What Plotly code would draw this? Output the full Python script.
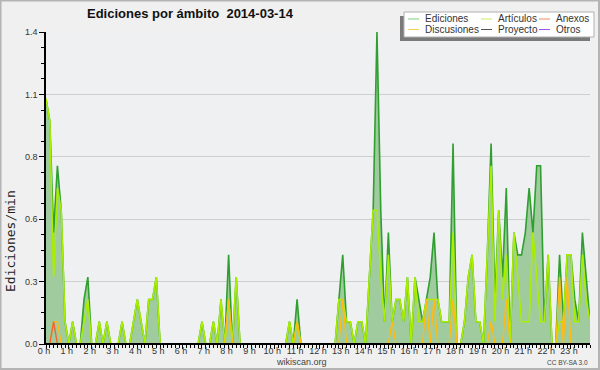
import plotly.graph_objects as go

# ---- data (10-minute bins, edits per minute) ----
HOUR_LABELS = [f"{h} h" for h in range(24)]
Y_TICK_VALUES = [0, 0.28, 0.56, 0.84, 1.12, 1.4]
Y_TICK_LABELS = ["0.0", "0.3", "0.6", "0.8", "1.1", "1.4"]

ediciones = [
    1.1, 1.0, 0.5, 0.8, 0.6, 0.1, 0, 0.1, 0, 0, 0.2, 0.3,          # 0-1h
    0, 0, 0.1, 0, 0.1, 0, 0, 0, 0.1, 0, 0, 0.1,                    # 2-3h
    0.2, 0.1, 0, 0.2, 0.2, 0.3, 0, 0, 0, 0, 0, 0,                  # 4-5h
    0, 0, 0, 0, 0, 0.1, 0, 0, 0.1, 0, 0.2, 0,                      # 6-7h
    0.4, 0, 0.3, 0, 0, 0, 0, 0, 0, 0, 0, 0,                        # 8-9h
    0, 0, 0, 0, 0.1, 0, 0.2, 0, 0, 0, 0, 0,                        # 10-11h
    0, 0, 0, 0, 0, 0.2, 0.4, 0.1, 0.1, 0, 0.1, 0.1,                # 12-13h
    0, 0.3, 0.6, 1.4, 0.6, 0.1, 0.5, 0.1, 0.2, 0.2, 0.1, 0.3,      # 14-15h
    0, 0.3, 0.2, 0.1, 0.2, 0.3, 0.5, 0.2, 0.1, 0.1, 0.1, 0.9,      # 16-17h
    0, 0, 0.1, 0.3, 0.4, 0.1, 0.1, 0, 0.4, 0.9, 0.2, 0.6,          # 18-19h
    0.3, 0.7, 0, 0.5, 0.4, 0.4, 0.5, 0.7, 0.5, 0.8, 0.8, 0.1,      # 20-21h
    0.4, 0, 0, 0.4, 0.1, 0.4, 0.4, 0.2, 0.1, 0.5, 0.3, 0.1,        # 22-23h
]
articulos = [
    1.1, 1.0, 0.3, 0.7, 0.6, 0.1, 0, 0.1, 0, 0, 0.1, 0.2,
    0, 0, 0.1, 0, 0.1, 0, 0, 0, 0.1, 0, 0, 0.1,
    0.2, 0.1, 0, 0.2, 0.2, 0.3, 0, 0, 0, 0, 0, 0,
    0, 0, 0, 0, 0, 0.1, 0, 0, 0.1, 0, 0.2, 0,
    0.2, 0, 0.3, 0, 0, 0, 0, 0, 0, 0, 0, 0,
    0, 0, 0, 0, 0.1, 0, 0.1, 0, 0, 0, 0, 0,
    0, 0, 0, 0, 0, 0.2, 0.2, 0.1, 0.1, 0, 0.1, 0.1,
    0, 0.3, 0.6, 0.6, 0.3, 0.1, 0.4, 0.1, 0.2, 0.2, 0.1, 0.3,
    0, 0.3, 0.1, 0.1, 0.2, 0.2, 0.2, 0.2, 0.1, 0.1, 0.1, 0.5,
    0, 0, 0.1, 0.3, 0.4, 0.1, 0.1, 0, 0.4, 0.8, 0.1, 0.6,
    0.2, 0.4, 0, 0.5, 0.3, 0.1, 0.1, 0.1, 0.5, 0.3, 0.1, 0.1,
    0.4, 0, 0, 0.1, 0.1, 0.4, 0.4, 0.1, 0.1, 0.4, 0.2, 0.1,
]
discusiones = [
    0, 0, 0.1, 0.1, 0, 0, 0, 0, 0, 0, 0, 0,
    0, 0, 0, 0, 0, 0, 0, 0, 0, 0, 0, 0,
    0, 0, 0, 0, 0, 0, 0, 0, 0, 0, 0, 0,
    0, 0, 0, 0, 0, 0, 0, 0, 0, 0, 0, 0,
    0.2, 0, 0, 0, 0, 0, 0, 0, 0, 0, 0, 0,
    0, 0, 0, 0, 0, 0, 0.1, 0, 0, 0, 0, 0,
    0, 0, 0, 0, 0, 0, 0.2, 0, 0, 0, 0, 0,
    0, 0, 0, 0, 0, 0, 0, 0.1, 0, 0, 0, 0,
    0, 0, 0, 0, 0.2, 0, 0.2, 0, 0, 0, 0, 0.2,
    0, 0, 0, 0, 0, 0, 0, 0, 0, 0.1, 0, 0,
    0, 0.2, 0, 0, 0, 0, 0, 0, 0, 0, 0, 0,
    0, 0, 0, 0.3, 0, 0.3, 0, 0, 0, 0, 0, 0,
]
anexos = [0, 0, 0.1] + [0] * 141
proyecto = [0] * 144
otros = [0] * 144

minutes = [10 * i for i in range(len(ediciones))]
hours = [m / 60 for m in minutes]

# ---- geometry helpers (pixel -> paper) ----
W, H = 600, 370
L, R, T, B = 46, 10, 32, 26
PW, PH = W - L - R, H - T - B


def px(x):
    return (x - L) / PW


def py(y):
    return (H - B - y) / PH


COL_ED = "#2f9f2f"
COL_FILL = "#9fcb9e"
COL_ART = "#aaee00"
COL_DISC = "#ffbb11"
COL_ANEX = "#ee6633"
COL_PROY = "#555555"
COL_OTR = "#9955ee"

fig = go.Figure()
fig.add_trace(go.Scatter(x=hours, y=ediciones, mode="lines", fill="tozeroy",
                         fillcolor=COL_FILL, line=dict(color=COL_ED, width=1.6),
                         name="Ediciones", showlegend=False))
fig.add_trace(go.Scatter(x=hours, y=proyecto, mode="lines",
                         line=dict(color=COL_PROY, width=1), name="Proyecto", showlegend=False))
fig.add_trace(go.Scatter(x=hours, y=otros, mode="lines",
                         line=dict(color=COL_OTR, width=1), name="Otros", showlegend=False))
fig.add_trace(go.Scatter(x=hours, y=articulos, mode="lines",
                         line=dict(color=COL_ART, width=1.6), name="Artículos", showlegend=False))
fig.add_trace(go.Scatter(x=hours, y=discusiones, mode="lines",
                         line=dict(color=COL_DISC, width=1.4), name="Discusiones", showlegend=False))
fig.add_trace(go.Scatter(x=hours, y=anexos, mode="lines",
                         line=dict(color=COL_ANEX, width=1.4), name="Anexos", showlegend=False))

shapes = []
annotations = []

# baseline over the zero-level lines (axis line look)
shapes.append(dict(type="line", xref="paper", yref="paper", x0=0, x1=1, y0=0, y1=0,
                   line=dict(color="#000000", width=2), layer="above"))

# outer frame
shapes.append(dict(type="rect", xref="paper", yref="paper",
                   x0=px(0.5), x1=px(599), y0=py(369), y1=py(0.5),
                   line=dict(color="#b4b4b4", width=2), fillcolor="rgba(0,0,0,0)", layer="above"))

# legend box with shadow
shapes.append(dict(type="rect", xref="paper", yref="paper",
                   x0=px(400), x1=px(590), y0=py(41), y1=py(16),
                   line=dict(width=0), fillcolor="#7a7a7a", layer="above"))
shapes.append(dict(type="rect", xref="paper", yref="paper",
                   x0=px(404), x1=px(594), y0=py(37), y1=py(12),
                   line=dict(color="#b0b0b0", width=1), fillcolor="#ffffff", layer="above"))

legend_items = [
    ("Ediciones", "#7fcf7f", 408, 19),
    ("Discusiones", "#f7cf55", 408, 29.5),
    ("Artículos", "#c8ee60", 481, 19),
    ("Proyecto", COL_PROY, 481, 29.5),
    ("Anexos", "#f08a60", 539, 19),
    ("Otros", COL_OTR, 539, 29.5),
]
for name, col, x0, yc in legend_items:
    shapes.append(dict(type="line", xref="paper", yref="paper",
                       x0=px(x0), x1=px(x0 + 11), y0=py(yc), y1=py(yc),
                       line=dict(color=col, width=1), layer="above"))
    annotations.append(dict(xref="paper", yref="paper", x=px(x0 + 15), y=py(yc),
                            xanchor="left", yanchor="middle", showarrow=False,
                            text=name, font=dict(family="Liberation Sans", size=10, color="#333333")))

# title
annotations.append(dict(xref="paper", yref="paper", x=px(85), y=py(14),
                        xanchor="left", yanchor="middle", showarrow=False,
                        text="<b>Ediciones por ámbito  2014-03-14</b>",
                        font=dict(family="Liberation Sans", size=13, color="#111111")))
# y-axis title
annotations.append(dict(xref="paper", yref="paper", x=px(10), y=py(241),
                        xanchor="center", yanchor="middle", showarrow=False, textangle=-90,
                        text="Ediciones/min",
                        font=dict(family="DejaVu Sans Mono", size=13, color="#222222")))
# footer
annotations.append(dict(xref="paper", yref="paper", x=px(301), y=py(362),
                        xanchor="center", yanchor="middle", showarrow=False,
                        text="wikiscan.org",
                        font=dict(family="Liberation Sans", size=9, color="#444444")))
annotations.append(dict(xref="paper", yref="paper", x=px(590), y=py(362),
                        xanchor="right", yanchor="middle", showarrow=False,
                        text="CC BY-SA 3.0",
                        font=dict(family="Liberation Sans", size=6.5, color="#444444")))

fig.update_layout(
    width=W, height=H, autosize=False,
    margin=dict(l=L, r=R, t=T, b=B, pad=0),
    paper_bgcolor="#f0f0f0",
    plot_bgcolor="#eff0f2",
    showlegend=False,
    shapes=shapes,
    annotations=annotations,
    xaxis=dict(
        range=[0, hours[-1]], tickmode="array", tickvals=list(range(24)), ticktext=HOUR_LABELS,
        ticks="outside", ticklen=4, tickwidth=1, tickcolor="#000000",
        showline=True, linecolor="#000000", linewidth=1,
        showgrid=False, zeroline=False, automargin=False,
        ticklabelstandoff=-6, ticklabelshift=-2,
        tickfont=dict(family="Liberation Sans", size=9, color="#333333"),
        minor=dict(dtick=1 / 6, tick0=0, ticks="outside", ticklen=3, tickcolor="#000000", showgrid=False),
    ),
    yaxis=dict(
        range=[0, 1.4], tickmode="array", tickvals=Y_TICK_VALUES, ticktext=Y_TICK_LABELS,
        ticks="outside", ticklen=5, tickwidth=1, tickcolor="#000000",
        showline=True, linecolor="#000000", linewidth=1.5,
        showgrid=True, gridcolor="#cfcfcf", gridwidth=1, zeroline=False, automargin=False,
        tickfont=dict(family="Liberation Sans", size=9, color="#333333"),
        minor=dict(dtick=0.07, tick0=0, ticks="outside", ticklen=3, tickcolor="#000000", showgrid=False),
    ),
)

fig.write_html(
    "out.html",
    config={"displayModeBar": False},
    post_script="document.body.style.margin='0';document.body.style.padding='0';"
                "document.body.style.overflow='hidden';",
)
